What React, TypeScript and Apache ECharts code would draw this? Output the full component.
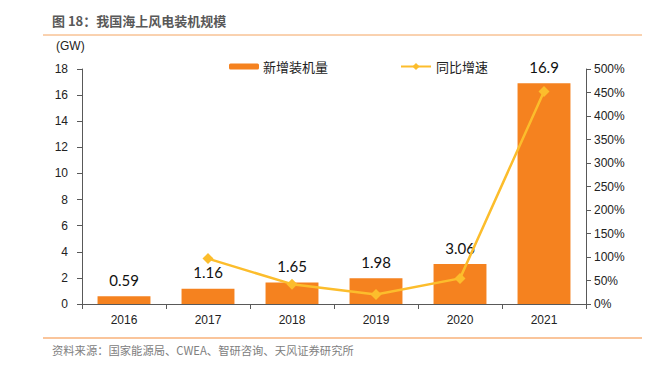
import React, { useEffect, useRef } from "react";
import * as echarts from "echarts";

const categories = ["2016", "2017", "2018", "2019", "2020", "2021"];
const capacity = [0.59, 1.16, 1.65, 1.98, 3.06, 16.9];
const growth = [null, 96.6, 42.2, 20.0, 54.5, 452.3];
const titleText = "图 18：我国海上风电装机规模";
const sourceText = "资料来源：国家能源局、CWEA、智研咨询、天风证券研究所";
const barName = "新增装机量";
const lineName = "同比增速";

const BAR = "#F5821F";
const LINE = "#FCBD2C";
const AXIS = "#595959";
const FONT = "'Liberation Sans', Arial, sans-serif";
const CJK = "'Noto Sans CJK SC', sans-serif";

export default function App() {
  const ref = useRef<HTMLDivElement>(null);
  useEffect(() => {
    if (!ref.current) return;
    const chart = echarts.init(ref.current, null, { renderer: "svg" });
    chart.setOption({
      animation: false,
      backgroundColor: "#fff",
      grid: { left: 82, right: 65, top: 69, bottom: 63 },
      legend: [
        {
          data: [barName],
          left: 224,
          top: 55,
          itemWidth: 30,
          itemHeight: 6,
          itemGap: 4,
          textStyle: { fontSize: 13, color: "#222", fontFamily: CJK, padding: [0, 0, 0, -1] },
        },
        {
          data: [lineName],
          left: 395,
          top: 55,
          itemWidth: 30,
          itemHeight: 9,
          textStyle: { fontSize: 13, color: "#222", fontFamily: CJK },
        },
      ],
      xAxis: {
        type: "category",
        data: categories,
        axisLine: { lineStyle: { color: AXIS } },
        axisTick: { show: true, lineStyle: { color: AXIS } },
        axisLabel: { fontSize: 12, color: "#222", fontFamily: FONT, margin: 10 },
      },
      yAxis: [
        {
          type: "value",
          min: 0,
          max: 18,
          interval: 2,
          splitLine: { show: false },
          axisLine: { show: true, lineStyle: { color: AXIS } },
          axisTick: { show: true, lineStyle: { color: AXIS } },
          axisLabel: { fontSize: 12, color: "#222", fontFamily: FONT, margin: 14 },
        },
        {
          type: "value",
          min: 0,
          max: 500,
          interval: 50,
          splitLine: { show: false },
          axisLine: { show: true, lineStyle: { color: AXIS } },
          axisTick: { show: true, lineStyle: { color: AXIS } },
          axisLabel: {
            fontSize: 12,
            color: "#222",
            fontFamily: FONT,
            formatter: "{value}%",
            margin: 8,
          },
        },
      ],
      series: [
        {
          name: barName,
          type: "bar",
          data: capacity,
          barWidth: "63%",
          itemStyle: { color: BAR },
          label: {
            show: true,
            position: "top",
            distance: 9,
            fontSize: 15,
            color: "#111",
            fontFamily: "Lato, 'Open Sans', sans-serif",
          },
        },
        {
          name: lineName,
          type: "line",
          yAxisIndex: 1,
          data: growth,
          symbol: "diamond",
          symbolSize: 11,
          lineStyle: { color: LINE, width: 2.5 },
          itemStyle: { color: LINE },
          z: 5,
        },
      ],
      graphic: [
        {
          type: "text",
          left: 52,
          top: 14,
          style: {
            text: titleText,
            fontSize: 13,
            fontWeight: "bold",
            fill: "#595959",
            fontFamily: CJK,
          },
        },
        {
          type: "line",
          shape: { x1: 43, y1: 35, x2: 642, y2: 35 },
          style: { stroke: "#F4A460", lineWidth: 1 },
        },
        {
          type: "text",
          left: 56,
          top: 40,
          style: { text: "(GW)", fontSize: 12, fill: "#222", fontFamily: FONT },
        },
        {
          type: "line",
          shape: { x1: 43, y1: 338, x2: 642, y2: 338 },
          style: { stroke: "#F9B27A", lineWidth: 1.5 },
        },
        {
          type: "text",
          left: 52,
          top: 344,
          style: { text: sourceText, fontSize: 11.3, fill: "#808080", fontFamily: CJK },
        },
      ],
    });
    return () => chart.dispose();
  }, []);
  return <div ref={ref} style={{ width: 651, height: 367, margin: -8 }} />;
}
